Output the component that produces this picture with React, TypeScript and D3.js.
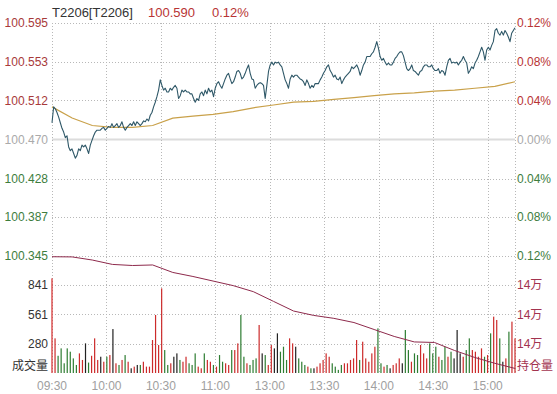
import React from 'react';
import * as d3 from 'd3';

const W = 557;
const H = 394;

const title = 'T2206[T2206]';
const lastPrice = '100.590';
const lastPct = '0.12%';
const preClose = 100.47;

const timeLabels = ['09:30', '10:00', '10:30', '11:00', '13:00', '13:30', '14:00', '14:30', '15:00'];
const timeMinutes = [0, 30, 60, 90, 120, 150, 180, 210, 240];
const totalMinutes = 255;

const priceTicks = [100.595, 100.553, 100.512, 100.47, 100.428, 100.387, 100.345];
const volumeTicks = [280, 561, 841];

const prices = [
  100.488, 100.505, 100.503, 100.499, 100.494, 100.488, 100.482, 100.478, 100.472, 100.474,
  100.462, 100.458, 100.460, 100.455, 100.450, 100.453, 100.460, 100.458, 100.464, 100.462,
  100.464, 100.460, 100.455, 100.464, 100.469, 100.474, 100.478, 100.480, 100.480, 100.480,
  100.482, 100.483, 100.480, 100.482, 100.484, 100.483, 100.487, 100.483, 100.485, 100.487,
  100.483, 100.485, 100.489, 100.483, 100.480, 100.483, 100.485, 100.487, 100.485, 100.489,
  100.485, 100.489, 100.487, 100.485, 100.487, 100.490, 100.489, 100.492, 100.490, 100.496,
  100.499, 100.505, 100.510, 100.516, 100.523, 100.534, 100.528, 100.523, 100.525, 100.521,
  100.521, 100.525, 100.523, 100.526, 100.528, 100.525, 100.514, 100.517, 100.523, 100.521,
  100.523, 100.521, 100.521, 100.519, 100.519, 100.514, 100.510, 100.514, 100.512, 100.519,
  100.521, 100.517, 100.523, 100.519, 100.525, 100.521, 100.523, 100.516, 100.525, 100.530,
  100.532, 100.528, 100.525, 100.530, 100.535, 100.539, 100.541, 100.535, 100.530, 100.532,
  100.537, 100.543, 100.544, 100.541, 100.535, 100.537, 100.541, 100.546, 100.550, 100.541,
  100.535, 100.534, 100.525, 100.528, 100.530, 100.531, 100.530, 100.528, 100.514, 100.528,
  100.543, 100.550, 100.553, 100.550, 100.553, 100.552, 100.553, 100.550,
  100.548, 100.541, 100.534, 100.530, 100.525, 100.535, 100.539, 100.537, 100.539, 100.539,
  100.537, 100.535, 100.534, 100.532, 100.528, 100.534, 100.530, 100.525, 100.528, 100.526,
  100.530, 100.530, 100.530, 100.534, 100.537, 100.541, 100.544, 100.548, 100.550, 100.544,
  100.541, 100.537, 100.539, 100.535, 100.534, 100.537, 100.530, 100.534, 100.537, 100.539,
  100.541, 100.543, 100.548, 100.546, 100.548, 100.550, 100.546, 100.539, 100.544, 100.550,
  100.553, 100.559, 100.559, 100.559, 100.562, 100.564, 100.569, 100.575, 100.568, 100.559,
  100.555, 100.557, 100.553, 100.550, 100.552, 100.550, 100.550, 100.553, 100.557,
  100.559, 100.562, 100.564, 100.564, 100.560, 100.553, 100.546, 100.544, 100.546, 100.550,
  100.544, 100.543, 100.541, 100.539, 100.543, 100.544, 100.548, 100.550, 100.550, 100.548,
  100.548, 100.550, 100.546, 100.544, 100.544, 100.546, 100.541, 100.544, 100.543, 100.539,
  100.548, 100.555, 100.557, 100.552, 100.553, 100.552, 100.553, 100.550, 100.553, 100.555,
  100.559, 100.555, 100.552, 100.541, 100.544, 100.548, 100.546, 100.552, 100.555, 100.559,
  100.564, 100.569, 100.564, 100.555, 100.566, 100.569, 100.566, 100.571, 100.575, 100.587,
  100.589, 100.584, 100.582, 100.586, 100.582, 100.587, 100.584, 100.580, 100.575, 100.584,
  100.587, 100.590,
];

const avgPrices = [
  100.505, 100.493, 100.485, 100.483, 100.483, 100.485, 100.493, 100.495, 100.497, 100.500,
  100.504, 100.507, 100.510, 100.511, 100.513, 100.515, 100.517, 100.519, 100.520, 100.522,
  100.523, 100.525, 100.527, 100.532,
];

const openInterest = [
  145160, 145150, 144980, 144740, 144680, 144710, 144300, 144080, 143830, 143580,
  143250, 142720, 142190, 141950, 141790, 141560, 141180, 140800, 140500, 140470,
  140030, 139650, 139330, 139050,
];

const volumes = [
  907, 332, 165, 236, 93, 236, 204, 140, 77, 188,
  125, 284, 100, 165, 332, 125, 156, 108, 156, 172,
  421, 93, 77, 125, 172, 108, 45, 61, 77, 77,
  108, 61, 61, 316, 556, 268, 811, 220, 77, 93,
  156, 188, 125, 108, 156, 93, 77, 188, 61, 45,
  188, 125, 108, 77, 61, 172, 108, 93, 77, 220,
  220, 284, 556, 156, 93, 77, 125, 140, 460, 188,
  172, 77, 268, 236, 380, 204, 252, 125, 332, 284,
  252, 140, 108, 77, 61, 45, 45, 61, 93, 125,
  188, 156, 93, 61, 30, 77, 93, 93, 125, 140,
  316, 125, 300, 140, 108, 188, 252, 428, 93, 61,
  77, 45, 77, 93, 140, 93, 412, 220, 108, 188,
  172, 268, 188, 140, 284, 188, 252, 156, 125, 252,
  156, 204, 140, 412, 188, 156, 220, 332, 220, 204,
  156, 236, 156, 172, 380, 540, 508, 332, 108, 140,
  396, 492, 332,
];

const FONT = '"Liberation Sans", Arial, "Noto Sans CJK SC", sans-serif';

export default function App() {
  const left = 52;
  const right = 515;
  const top = 23;
  const mid = 256;
  const bottom = 373;

  const x = d3.scaleLinear().domain([0, totalMinutes]).range([left, right]);
  const yP = d3.scaleLinear().domain([100.345, 100.595]).range([mid, top]);
  const yV = d3.scaleLinear().domain([0, 1121]).range([bottom, mid]);
  const yOI = d3.scaleLinear().domain([138800, 145200]).range([bottom, mid]);

  const priceMinute = (i: number) => (i * totalMinutes) / (prices.length - 1);
  const avgMinute = (i: number) => (i * totalMinutes) / (avgPrices.length - 1);
  const oiMinute = (i: number) => (i * totalMinutes) / (openInterest.length - 1);
  const volMinute = (i: number) => (i * totalMinutes) / (volumes.length - 1);

  const priceLine = d3.line<number>().x((_, i) => x(priceMinute(i))).y((d) => yP(d))(prices) || '';
  const avgLine = d3.line<number>().x((_, i) => x(avgMinute(i))).y((d) => yP(d))(avgPrices) || '';
  const oiLine = d3.line<number>().x((_, i) => x(oiMinute(i))).y((d) => yOI(d))(openInterest) || '';

  const priceAt = (m: number) => prices[Math.round((m * (prices.length - 1)) / totalMinutes)];
  const barColor = (i: number) => {
    if (i === 0) return '#d42a2a';
    const d = priceAt(volMinute(i)) - priceAt(volMinute(i - 1));
    if (d > 0.001) return '#cc2b2b';
    if (d < -0.001) return '#2e7d32';
    return '#222222';
  };

  const priceColor = (p: number) => {
    if (Math.abs(p - preClose) < 1e-6) return '#aaaaaa';
    return p > preClose ? '#a83a3a' : '#3d7d3d';
  };
  const pctColor = (p: number) => {
    if (Math.abs(p - preClose) < 1e-6) return '#aaaaaa';
    return p > preClose ? '#b83434' : '#3d7d3d';
  };

  const gridStyle = { stroke: '#b8b8b8', strokeWidth: 1, strokeDasharray: '1,2' };

  return (
    <svg width={W} height={H} style={{ position: 'absolute', left: 0, top: 0, background: '#fff' }} fontFamily={FONT}>
      <rect x={0} y={0} width={W} height={H} fill="#ffffff" />

      {/* horizontal grid: price */}
      {priceTicks.map((p, i) => (
        Math.abs(p - preClose) < 1e-6 ? null :
        <line key={'hp' + i} x1={left} x2={right} y1={Math.round(yP(p)) + 0.5} y2={Math.round(yP(p)) + 0.5} {...gridStyle} />
      ))}
      {/* zero line */}
      <line x1={left} x2={right} y1={yP(preClose)} y2={yP(preClose)} stroke="#dcdcdc" strokeWidth={2} />
      {/* horizontal grid: volume */}
      {volumeTicks.map((v, i) => (
        <line key={'hv' + i} x1={left} x2={right} y1={Math.round(yV(v)) + 0.5} y2={Math.round(yV(v)) + 0.5} {...gridStyle} />
      ))}
      {/* vertical grid */}
      {[...timeMinutes, totalMinutes].map((m, i) => (
        <line key={'vg' + i} x1={Math.round(x(m)) + 0.5} x2={Math.round(x(m)) + 0.5} y1={top} y2={bottom} {...gridStyle} />
      ))}

      {/* volume bars */}
      {volumes.map((v, i) => (
        <rect key={'vb' + i} x={x(volMinute(i)) - 0.6} width={1.2} y={yV(v)} height={bottom - yV(v)} fill={barColor(i)} />
      ))}

      {/* open interest */}
      <path d={oiLine} fill="none" stroke="#8e2a4c" strokeWidth={1} />

      {/* average & price */}
      <path d={avgLine} fill="none" stroke="#c9a14a" strokeWidth={1.2} />
      <path d={priceLine} fill="none" stroke="#2f5868" strokeWidth={1.1} strokeLinejoin="round" />

      {/* header */}
      <text x={52} y={12} dy="0.35em" fontSize={13} fill="#333">{title}</text>
      <text x={148} y={12} dy="0.35em" fontSize={13} fill="#b83434">{lastPrice}</text>
      <text x={212} y={12} dy="0.35em" fontSize={13} fill="#b83434">{lastPct}</text>

      {/* left price labels */}
      {priceTicks.map((p, i) => (
        <text key={'lp' + i} x={48} y={yP(p)} dy="0.35em" textAnchor="end" fontSize={12} fill={priceColor(p)}>
          {p.toFixed(3)}
        </text>
      ))}
      {/* right pct labels */}
      {priceTicks.map((p, i) => (
        <text key={'rp' + i} x={517} y={yP(p)} dy="0.35em" textAnchor="start" fontSize={12} fill={pctColor(p)}>
          {(Math.abs(p - preClose) / preClose * 100).toFixed(2) + '%'}
        </text>
      ))}
      {/* volume labels */}
      {volumeTicks.map((v, i) => (
        <text key={'lv' + i} x={48} y={yV(v)} dy="0.35em" textAnchor="end" fontSize={12} fill="#333">{v}</text>
      ))}
      <text x={48} y={366} dy="0.35em" textAnchor="end" fontSize={12} fill="#333">成交量</text>
      {/* OI labels */}
      {volumeTicks.map((v, i) => (
        <text key={'ro' + i} x={517} y={yV(v)} dy="0.35em" textAnchor="start" fontSize={12} fill="#a3334f">
          {Math.floor(yOI.invert(yV(v)) / 10000) + '万'}
        </text>
      ))}
      <text x={517} y={366} dy="0.35em" textAnchor="start" fontSize={12} fill="#a3334f">持仓量</text>

      {/* time labels */}
      {timeLabels.map((t, i) => (
        <text key={'t' + i} x={x(timeMinutes[i])} y={386} dy="0.35em" textAnchor="middle" fontSize={12} fill="#a0a0a0">{t}</text>
      ))}
    </svg>
  );
}
